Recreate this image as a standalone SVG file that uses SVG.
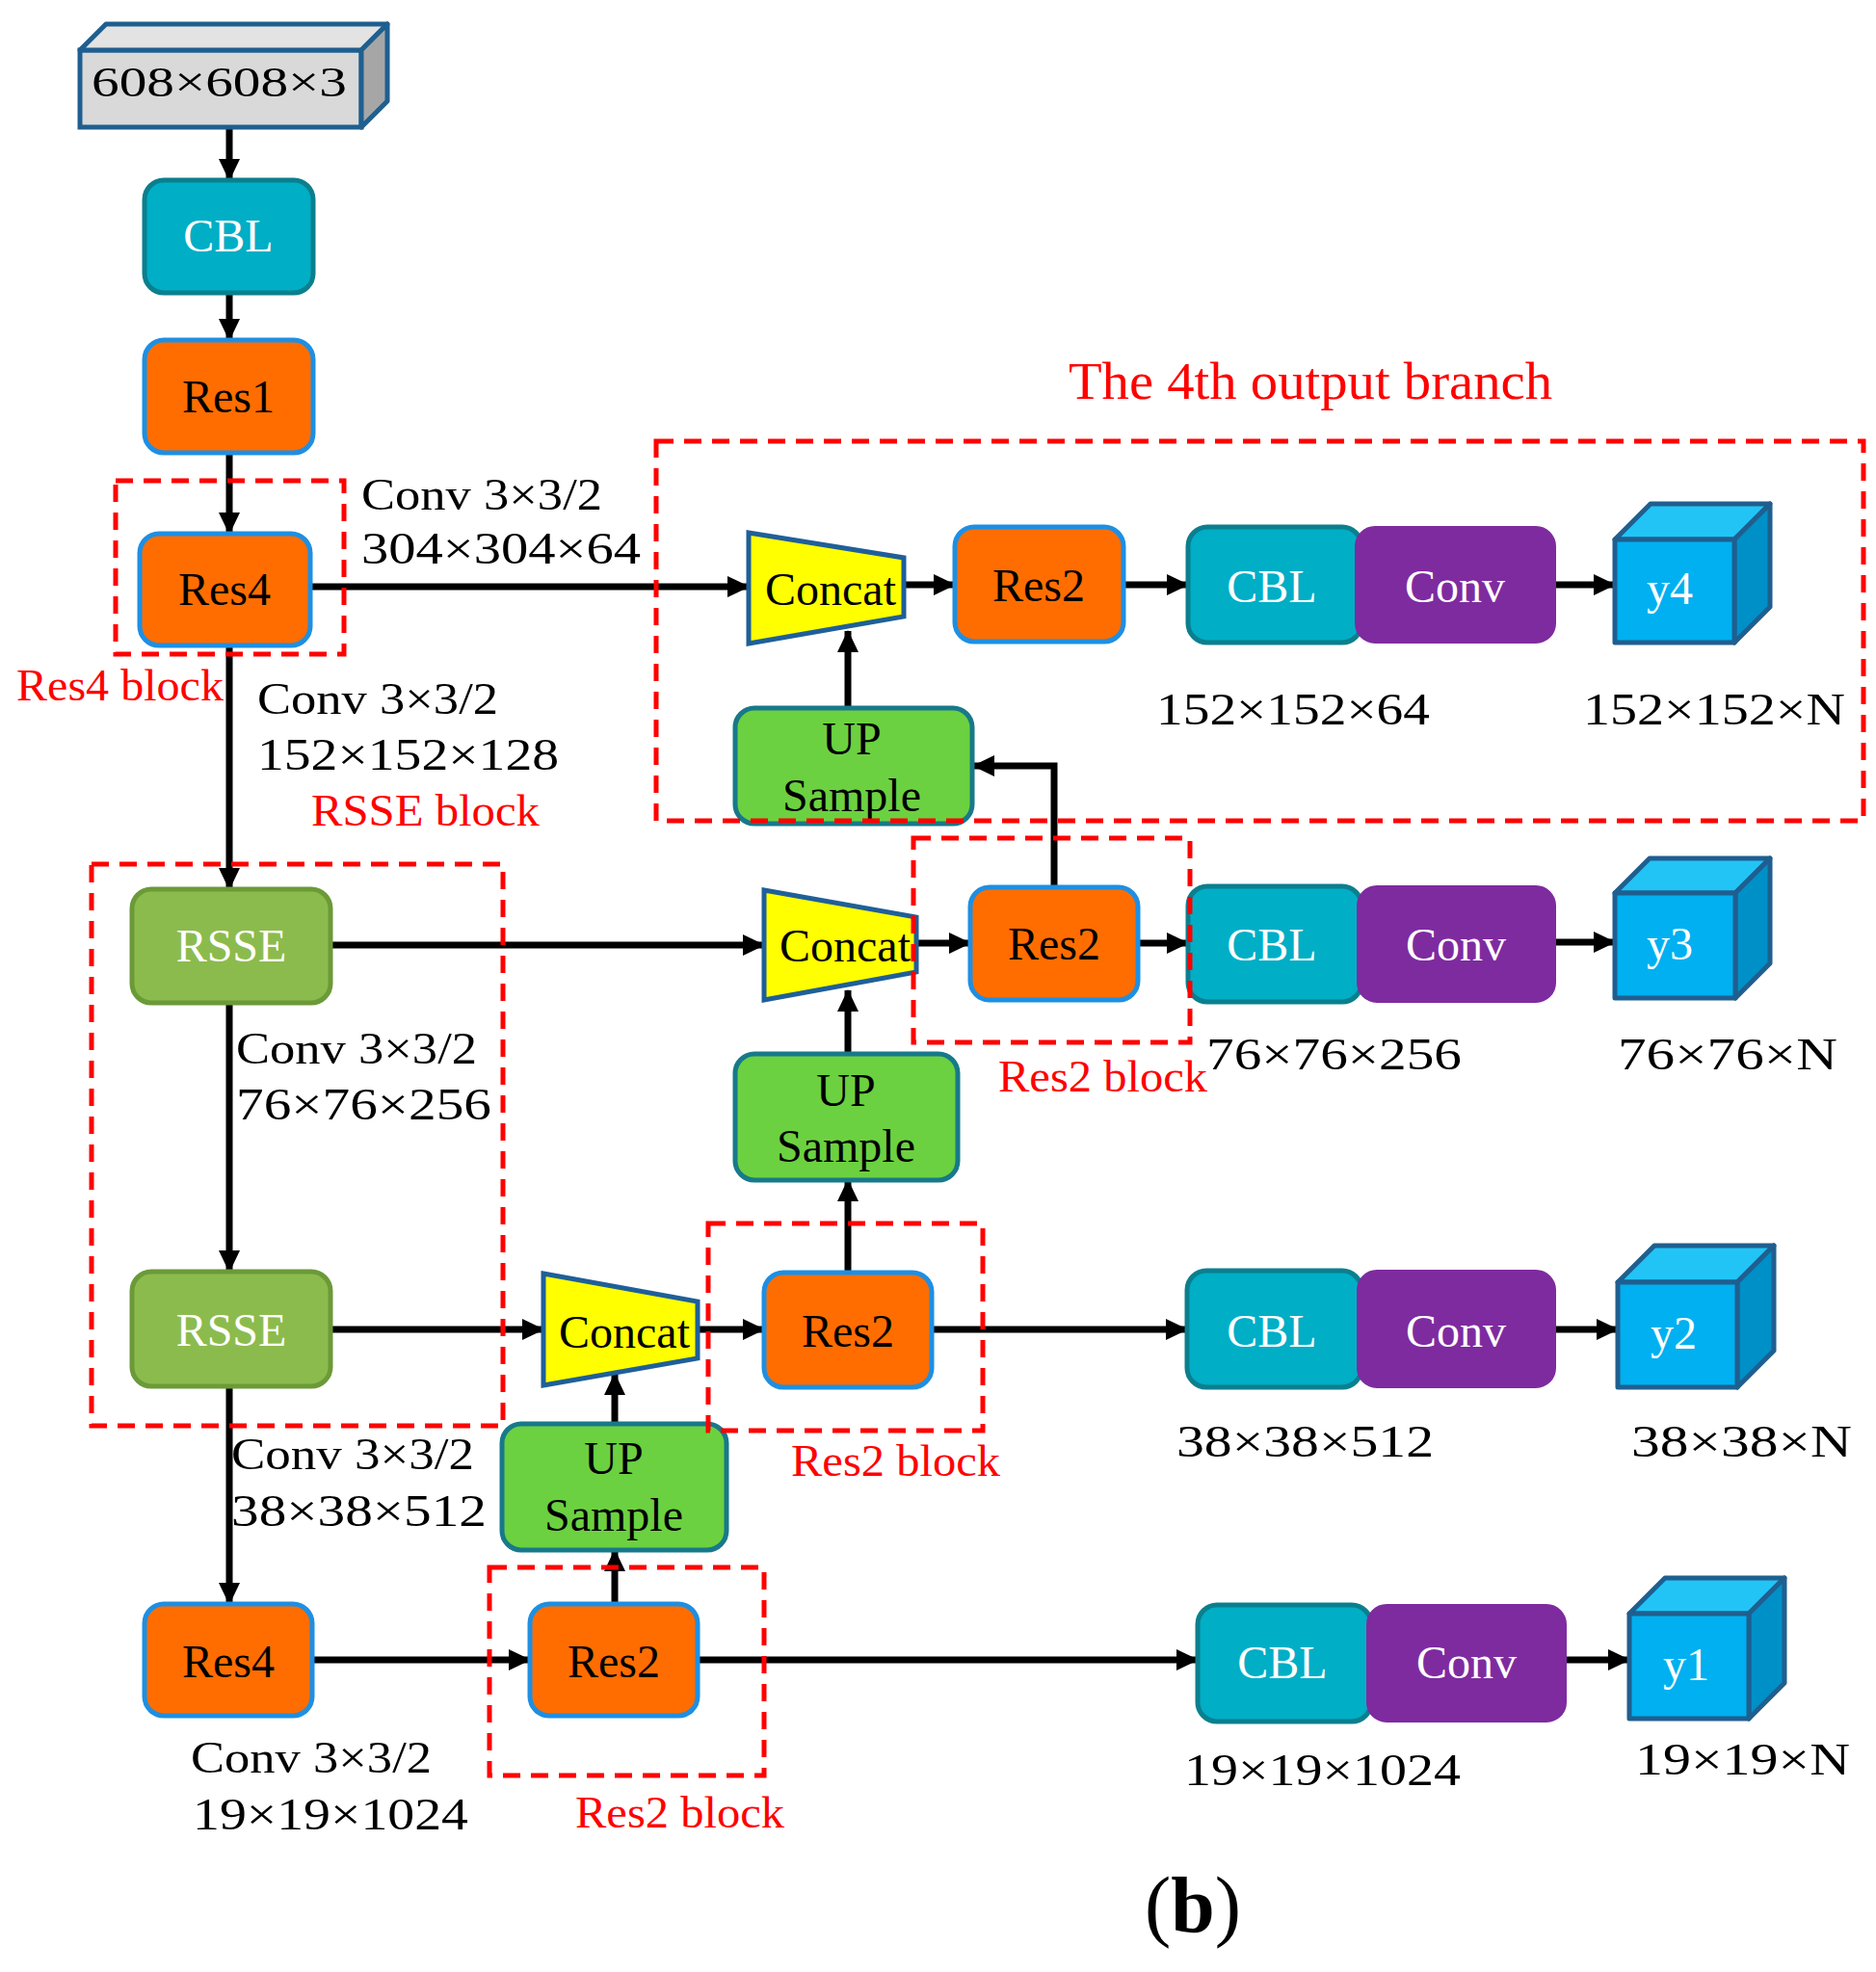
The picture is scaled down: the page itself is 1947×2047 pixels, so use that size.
<svg xmlns="http://www.w3.org/2000/svg" width="1947" height="2047" viewBox="0 0 1947 2047">
<style>
text{font-family:"Liberation Serif","Times New Roman",serif;}
.lbl{font-size:46px;fill:#000;}
.red{font-size:46px;fill:#FF0000;}
.nt{font-size:48px;text-anchor:middle;}
.w{fill:#fff;}
.k{fill:#000;}
.res{fill:#FF6D00;stroke:#1E8FE3;stroke-width:5;}
.cbl{fill:#00AEC6;stroke:#0B7F8E;stroke-width:5;}
.conv{fill:#7E2B9F;stroke:#7E2B9F;stroke-width:2;}
.rsse{fill:#8CBB4D;stroke:#6B9A38;stroke-width:5;}
.up{fill:#6CD140;stroke:#17798A;stroke-width:5;}
.cat{fill:#FFFF00;stroke:#1F5F99;stroke-width:5;stroke-linejoin:miter;}
.cf{fill:#00B0F0;stroke:#1F5F8F;stroke-width:5;stroke-linejoin:round;}
.ct{fill:#22C4F6;stroke:#1F5F8F;stroke-width:5;stroke-linejoin:round;}
.cr{fill:#0090C8;stroke:#1F5F8F;stroke-width:5;stroke-linejoin:round;}
.dash{fill:none;stroke:#FF0000;stroke-width:5;stroke-dasharray:18 11;}
.ln{fill:none;stroke:#000;stroke-width:7;}
.arr{marker-end:url(#ah);}
</style>
<defs>
<marker id="ah" viewBox="0 0 23 22" refX="22" refY="11" markerWidth="23" markerHeight="22" markerUnits="userSpaceOnUse" orient="auto">
<path d="M0,0 L23,11 L0,22 Z" fill="#000"/>
</marker>
</defs>
<rect width="1947" height="2047" fill="#fff"/>

<g id="connectors">
<path class="ln arr" d="M238,132 L238,187"/>
<path class="ln arr" d="M238,304 L238,353"/>
<path class="ln arr" d="M238,470 L238,554"/>
<path class="ln arr" d="M238,670 L238,923"/>
<path class="ln arr" d="M238,1041 L238,1320"/>
<path class="ln arr" d="M238,1439 L238,1665"/>
<path class="ln arr" d="M322,609 L777,609"/>
<path class="ln arr" d="M938,607 L991,607"/>
<path class="ln arr" d="M1166,607 L1233,607"/>
<path class="ln arr" d="M1614,607 L1676,607"/>
<path class="ln arr" d="M880,735 L880,655"/>
<path class="ln arr" d="M1094,921 L1094,795 L1010,795"/>
<path class="ln arr" d="M343,981 L793,981"/>
<path class="ln arr" d="M951,979 L1007,979"/>
<path class="ln arr" d="M1181,979 L1233,979"/>
<path class="ln arr" d="M1614,978 L1676,978"/>
<path class="ln arr" d="M880,1094 L880,1028"/>
<path class="ln arr" d="M880,1321 L880,1225"/>
<path class="ln arr" d="M343,1380 L564,1380"/>
<path class="ln arr" d="M724,1380 L793,1380"/>
<path class="ln arr" d="M967,1380 L1232,1380"/>
<path class="ln arr" d="M1614,1380 L1679,1380"/>
<path class="ln arr" d="M638,1478 L638,1426"/>
<path class="ln arr" d="M638,1665 L638,1609"/>
<path class="ln arr" d="M324,1723 L550,1723"/>
<path class="ln arr" d="M724,1723 L1243,1723"/>
<path class="ln arr" d="M1625,1723 L1691,1723"/>
</g>

<g id="input">
<rect x="83" y="52" width="292" height="80" fill="#D9D9D9" stroke="#1F5F8F" stroke-width="5"/>
<polygon points="83,52 110,25 402,25 375,52" fill="#E3E3E3" stroke="#1F5F8F" stroke-width="5" stroke-linejoin="round"/>
<polygon points="375,52 402,25 402,105 375,132" fill="#A6A6A6" stroke="#1F5F8F" stroke-width="5" stroke-linejoin="round"/>
<text x="95" y="100" style="font-size:44px;fill:#000" textLength="265" lengthAdjust="spacingAndGlyphs">608×608×3</text>
</g>

<g id="cbl0"><rect class="cbl" x="150" y="187" width="175" height="117" rx="20"/><text class="nt w" x="237" y="261">CBL</text></g>
<g id="res1"><rect class="res" x="150" y="353" width="175" height="117" rx="20"/><text class="nt k" x="237" y="428">Res1</text></g>
<g id="res4a"><rect class="res" x="145" y="554" width="177" height="116" rx="20"/><text class="nt k" x="233" y="628">Res4</text></g>
<g id="rsse1"><rect class="rsse" x="137" y="923" width="206" height="118" rx="20"/><text class="nt w" x="240" y="998">RSSE</text></g>
<g id="rsse2"><rect class="rsse" x="137" y="1320" width="206" height="119" rx="20"/><text class="nt w" x="240" y="1397">RSSE</text></g>
<g id="res4b"><rect class="res" x="150" y="1665" width="174" height="116" rx="20"/><text class="nt k" x="237" y="1741">Res4</text></g>

<g id="concat4"><polygon class="cat" points="777,553 938,579 938,640 777,668"/><text class="nt k" x="862" y="628">Concat</text></g>
<g id="concat3"><polygon class="cat" points="793,924 951,952 951,1009 793,1038"/><text class="nt k" x="877" y="998">Concat</text></g>
<g id="concat2"><polygon class="cat" points="564,1322 724,1351 724,1410 564,1438"/><text class="nt k" x="648" y="1399">Concat</text></g>

<g id="res2_4"><rect class="res" x="991" y="547" width="175" height="119" rx="20"/><text class="nt k" x="1078" y="624">Res2</text></g>
<g id="res2_3"><rect class="res" x="1007" y="921" width="174" height="117" rx="20"/><text class="nt k" x="1094" y="996">Res2</text></g>
<g id="res2_2"><rect class="res" x="793" y="1321" width="174" height="119" rx="20"/><text class="nt k" x="880" y="1398">Res2</text></g>
<g id="res2_1"><rect class="res" x="550" y="1665" width="174" height="116" rx="20"/><text class="nt k" x="637" y="1741">Res2</text></g>

<g id="up4"><rect class="up" x="763" y="735" width="246" height="120" rx="20"/><text class="nt k" x="884" y="783">UP</text><text class="nt k" x="884" y="842">Sample</text></g>
<g id="up3"><rect class="up" x="763" y="1094" width="231" height="131" rx="20"/><text class="nt k" x="878" y="1148">UP</text><text class="nt k" x="878" y="1206">Sample</text></g>
<g id="up2"><rect class="up" x="521" y="1478" width="233" height="131" rx="20"/><text class="nt k" x="637" y="1530">UP</text><text class="nt k" x="637" y="1589">Sample</text></g>

<g id="cblconv4"><rect class="cbl" x="1233" y="547" width="180" height="120" rx="20"/><rect class="conv" x="1407" y="547" width="207" height="120" rx="20"/><text class="nt w" x="1320" y="625">CBL</text><text class="nt w" x="1510" y="625">Conv</text></g>
<g id="cblconv3"><rect class="cbl" x="1233" y="920" width="180" height="120" rx="20"/><rect class="conv" x="1409" y="920" width="205" height="120" rx="20"/><text class="nt w" x="1320" y="997">CBL</text><text class="nt w" x="1511" y="997">Conv</text></g>
<g id="cblconv2"><rect class="cbl" x="1232" y="1319" width="181" height="121" rx="20"/><rect class="conv" x="1409" y="1319" width="205" height="121" rx="20"/><text class="nt w" x="1320" y="1398">CBL</text><text class="nt w" x="1511" y="1398">Conv</text></g>
<g id="cblconv1"><rect class="cbl" x="1243" y="1666" width="180" height="121" rx="20"/><rect class="conv" x="1419" y="1666" width="206" height="121" rx="20"/><text class="nt w" x="1331" y="1742">CBL</text><text class="nt w" x="1522" y="1742">Conv</text></g>

<g id="y4"><polygon class="ct" points="1676,560 1713,523 1837,523 1800,560"/><polygon class="cr" points="1800,560 1837,523 1837,630 1800,667"/><rect class="cf" x="1676" y="560" width="124" height="107"/><text class="nt w" x="1733" y="627">y4</text></g>
<g id="y3"><polygon class="ct" points="1676,927 1712,891 1837,891 1801,927"/><polygon class="cr" points="1801,927 1837,891 1837,1000 1801,1036"/><rect class="cf" x="1676" y="927" width="125" height="109"/><text class="nt w" x="1733" y="996">y3</text></g>
<g id="y2"><polygon class="ct" points="1679,1331 1717,1293 1841,1293 1803,1331"/><polygon class="cr" points="1803,1331 1841,1293 1841,1402 1803,1440"/><rect class="cf" x="1679" y="1331" width="124" height="109"/><text class="nt w" x="1737" y="1400">y2</text></g>
<g id="y1"><polygon class="ct" points="1691,1675 1728,1638 1852,1638 1815,1675"/><polygon class="cr" points="1815,1675 1852,1638 1852,1747 1815,1784"/><rect class="cf" x="1691" y="1675" width="124" height="109"/><text class="nt w" x="1750" y="1744">y1</text></g>

<g id="blocks">
<rect class="dash" x="120" y="499" width="237" height="180"/>
<rect class="dash" x="681" y="458" width="1253" height="394"/>
<rect class="dash" x="95" y="897" width="427" height="583"/>
<rect class="dash" x="948" y="870" width="287" height="212"/>
<rect class="dash" x="735" y="1270" width="285" height="215"/>
<rect class="dash" x="508" y="1627" width="285" height="216"/>
</g>

<g id="labels">
<text x="1109" y="414" style="font-size:54px;fill:#FF0000" textLength="502" lengthAdjust="spacingAndGlyphs">The 4th output branch</text>
<text class="red" x="17" y="727" textLength="215" lengthAdjust="spacingAndGlyphs">Res4 block</text>
<text class="red" x="323" y="857" textLength="237" lengthAdjust="spacingAndGlyphs">RSSE block</text>
<text class="red" x="1036" y="1133" textLength="217" lengthAdjust="spacingAndGlyphs">Res2 block</text>
<text class="red" x="821" y="1532" textLength="217" lengthAdjust="spacingAndGlyphs">Res2 block</text>
<text class="red" x="597" y="1897" textLength="217" lengthAdjust="spacingAndGlyphs">Res2 block</text>

<text class="lbl" x="375" y="529" textLength="250" lengthAdjust="spacingAndGlyphs">Conv 3×3/2</text>
<text class="lbl" x="375" y="585" textLength="290" lengthAdjust="spacingAndGlyphs">304×304×64</text>
<text class="lbl" x="267" y="741" textLength="250" lengthAdjust="spacingAndGlyphs">Conv 3×3/2</text>
<text class="lbl" x="267" y="799" textLength="313" lengthAdjust="spacingAndGlyphs">152×152×128</text>
<text class="lbl" x="245" y="1104" textLength="250" lengthAdjust="spacingAndGlyphs">Conv 3×3/2</text>
<text class="lbl" x="245" y="1162" textLength="265" lengthAdjust="spacingAndGlyphs">76×76×256</text>
<text class="lbl" x="240" y="1525" textLength="252" lengthAdjust="spacingAndGlyphs">Conv 3×3/2</text>
<text class="lbl" x="240" y="1584" textLength="265" lengthAdjust="spacingAndGlyphs">38×38×512</text>
<text class="lbl" x="198" y="1840" textLength="250" lengthAdjust="spacingAndGlyphs">Conv 3×3/2</text>
<text class="lbl" x="200" y="1899" textLength="286" lengthAdjust="spacingAndGlyphs">19×19×1024</text>

<text class="lbl" x="1200" y="752" textLength="284" lengthAdjust="spacingAndGlyphs">152×152×64</text>
<text class="lbl" x="1643" y="752" textLength="272" lengthAdjust="spacingAndGlyphs">152×152×N</text>
<text class="lbl" x="1252" y="1110" textLength="265" lengthAdjust="spacingAndGlyphs">76×76×256</text>
<text class="lbl" x="1679" y="1110" textLength="228" lengthAdjust="spacingAndGlyphs">76×76×N</text>
<text class="lbl" x="1221" y="1512" textLength="267" lengthAdjust="spacingAndGlyphs">38×38×512</text>
<text class="lbl" x="1693" y="1512" textLength="229" lengthAdjust="spacingAndGlyphs">38×38×N</text>
<text class="lbl" x="1229" y="1853" textLength="287" lengthAdjust="spacingAndGlyphs">19×19×1024</text>
<text class="lbl" x="1697" y="1842" textLength="223" lengthAdjust="spacingAndGlyphs">19×19×N</text>

<text x="1188" y="2005" style="font-size:82px;fill:#000" textLength="100" lengthAdjust="spacingAndGlyphs">(<tspan style="font-weight:bold">b</tspan>)</text>
</g>
</svg>
